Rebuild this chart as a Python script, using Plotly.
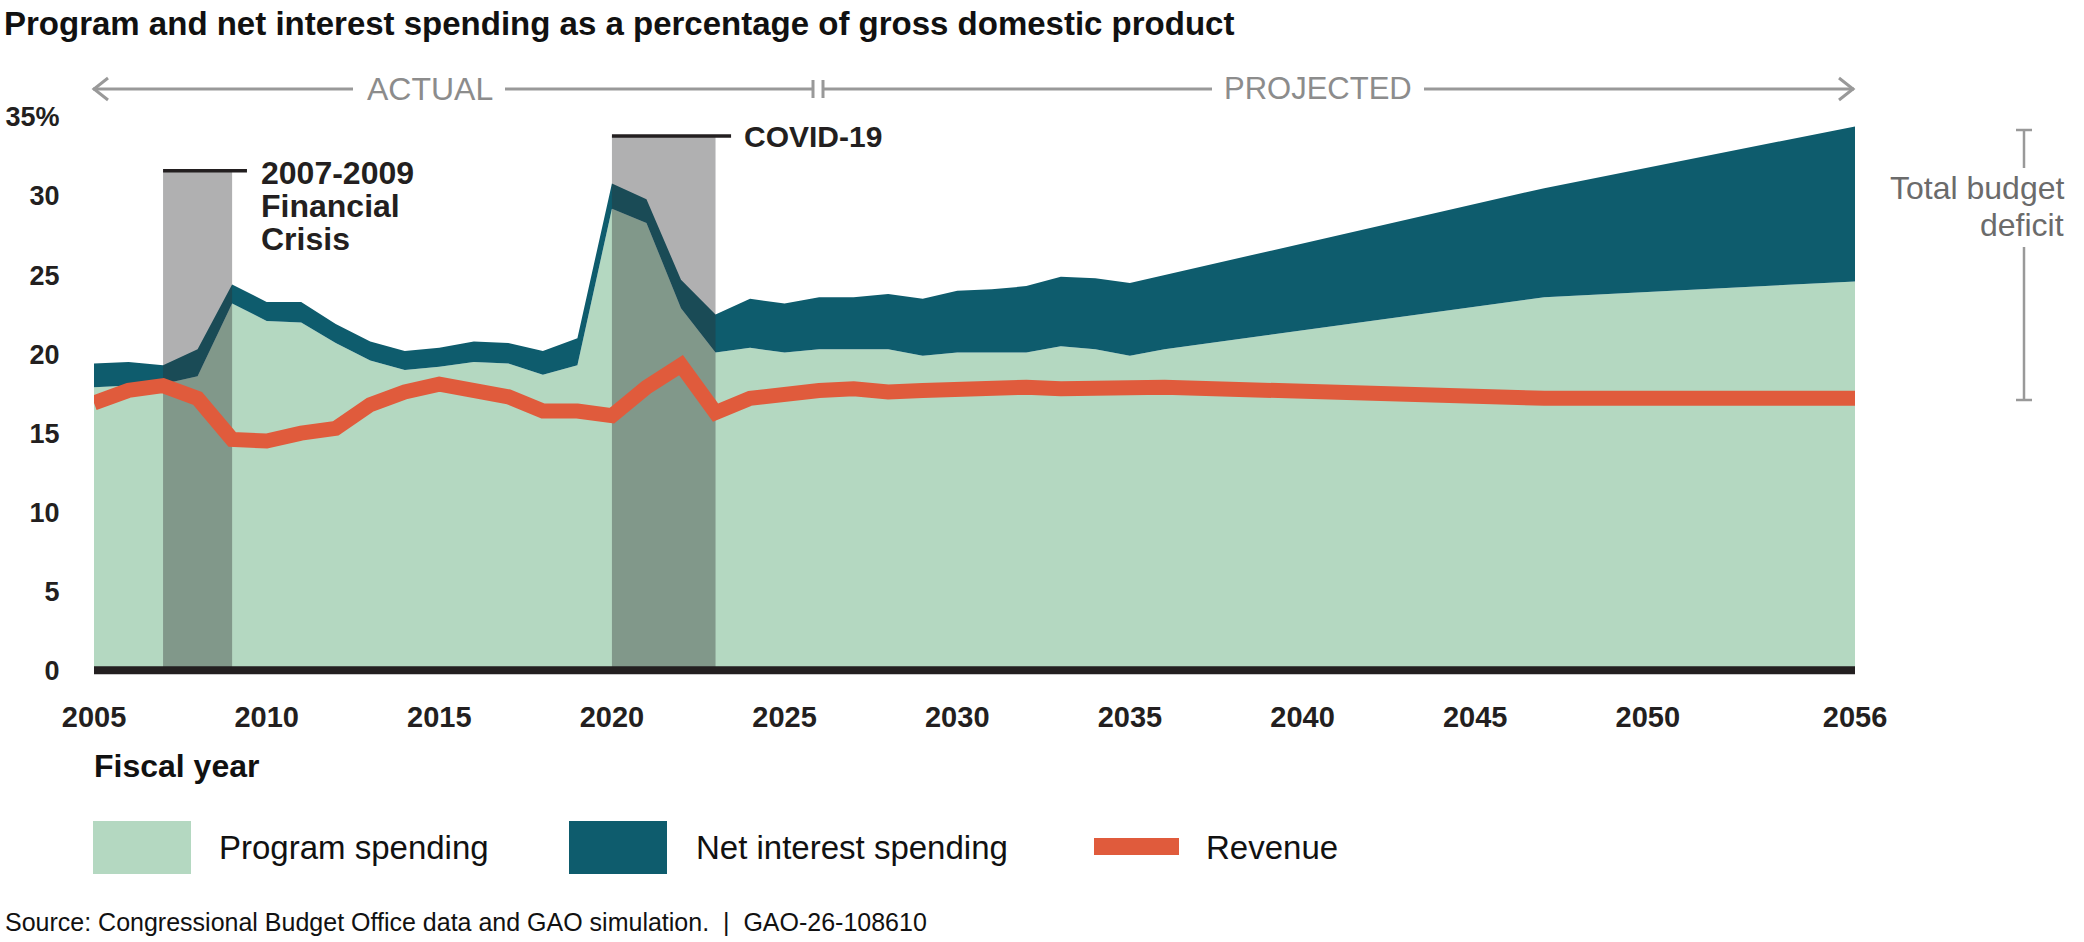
import plotly.graph_objects as go

# ---------------- data ----------------
years = list(range(2005, 2037)) + [2047, 2056]

program_spending = [17.9, 18.0, 18.1, 18.6, 23.2, 22.1, 22.0, 20.7, 19.6, 19.0,
                    19.2, 19.5, 19.4, 18.7, 19.3, 29.2, 28.3, 22.9, 20.1, 20.4,
                    20.1, 20.3, 20.3, 20.3, 19.9, 20.1, 20.1, 20.1, 20.5, 20.3,
                    19.9, 20.3, 23.6, 24.6]

net_interest = [1.5, 1.5, 1.2, 1.7, 1.2, 1.2, 1.3, 1.2, 1.2, 1.2,
                1.2, 1.3, 1.3, 1.5, 1.7, 1.6, 1.5, 1.8, 2.4, 3.1,
                3.1, 3.3, 3.3, 3.5, 3.6, 3.9, 4.0, 4.2, 4.4, 4.5,
                4.6, 4.7, 6.9, 9.8]

revenue = [16.9, 17.7, 18.0, 17.2, 14.6, 14.5, 15.0, 15.3, 16.8, 17.6,
           18.1, 17.7, 17.3, 16.4, 16.4, 16.1, 17.9, 19.3, 16.3, 17.2,
           17.5, 17.7, 17.8, 17.6, 17.7, 17.8, 17.9, 17.9, 17.8, 17.8,
           17.8, 17.9, 17.2, 17.2]

band_labels = [["2007-2009", "Financial", "Crisis"], ["COVID-19"]]
band_starts = [2007, 2020]
band_ends = [2009, 2023]

x_tick_vals = [2005, 2010, 2015, 2020, 2025, 2030, 2035, 2040, 2045, 2050, 2056]
y_tick_vals = [0, 5, 10, 15, 20, 25, 30, 35]
y_tick_text = ["0", "5", "10", "15", "20", "25", "30", "35%"]

legend_labels = ["Program spending", "Net interest spending", "Revenue"]

# ---------------- styles ----------------
GREEN = "#b4d8c1"
TEAL = "#0e5c6d"
ORANGE = "#e05b3c"
BAND = "rgba(48,48,50,0.38)"
DARK = "#231f20"
GRAY = "#999999"
TXTGRAY = "#6b6b6b"
FONT = "Liberation Sans, Arial, sans-serif"

W, H = 2084, 942
L, R, T, B = 94, 1855, 117, 686
YMIN, YMAX = -1, 35


def px(xp):
    return (xp - L) / (R - L)


def py(yp):
    return (B - yp) / (B - T)


fig = go.Figure()

fig.add_trace(go.Scatter(x=years, y=program_spending, stackgroup="one", mode="lines",
                         line=dict(width=0, color=GREEN), fillcolor=GREEN,
                         name=legend_labels[0], hoverinfo="skip"))
fig.add_trace(go.Scatter(x=years, y=net_interest, stackgroup="one", mode="lines",
                         line=dict(width=0, color=TEAL), fillcolor=TEAL,
                         name=legend_labels[1], hoverinfo="skip"))

band_tops = [31.6, 33.8]
band_line_ext = [0.43, 0.45]
for s, e, top in zip(band_starts, band_ends, band_tops):
    fig.add_trace(go.Scatter(x=[s, e, e, s, s], y=[0, 0, top, top, 0], fill="toself",
                             mode="lines", line=dict(width=0), fillcolor=BAND,
                             hoverinfo="skip", showlegend=False))

fig.add_trace(go.Scatter(x=years, y=revenue, mode="lines",
                         line=dict(color=ORANGE, width=15),
                         name=legend_labels[2], hoverinfo="skip"))

shapes = []
annotations = []

# zero baseline
shapes.append(dict(type="line", xref="x", yref="y", x0=2005, x1=2056, y0=0, y1=0,
                   line=dict(color=DARK, width=8), layer="above"))

# band top lines + labels
label_pos = [(259, 173, 32), (742, 136, 30)]
for s, e, top, ext, lines, (lx, ly, fs) in zip(band_starts, band_ends, band_tops, band_line_ext,
                                                band_labels, label_pos):
    shapes.append(dict(type="line", xref="x", yref="y", x0=s, x1=e + ext, y0=top, y1=top,
                       line=dict(color=DARK, width=3.5), layer="above"))
    for i, ln in enumerate(lines):
        annotations.append(dict(xref="paper", yref="paper", x=px(lx), y=py(ly + 33 * i),
                                xanchor="left", yanchor="middle", align="left",
                                text="<b>" + ln + "</b>", showarrow=False,
                                font=dict(family=FONT, size=fs, color=DARK)))

# ACTUAL / PROJECTED arrow line
AY = 89
for x0, x1 in [(93, 353), (505, 813), (823, 1212), (1424, 1854)]:
    shapes.append(dict(type="line", xref="paper", yref="paper", x0=px(x0), x1=px(x1),
                       y0=py(AY), y1=py(AY), line=dict(color=GRAY, width=3)))
for bx in [813, 823]:
    shapes.append(dict(type="line", xref="paper", yref="paper", x0=px(bx), x1=px(bx),
                       y0=py(80), y1=py(98), line=dict(color=GRAY, width=3)))
for tip, d in [(94, 1), (1853, -1)]:
    shapes.append(dict(type="path", xref="paper", yref="paper",
                       path=f"M {px(tip + 14 * d)} {py(AY - 11)} L {px(tip)} {py(AY)} L {px(tip + 14 * d)} {py(AY + 11)}",
                       line=dict(color=GRAY, width=3)))
annotations.append(dict(xref="paper", yref="paper", x=px(430), y=py(AY), text="ACTUAL",
                        showarrow=False, xanchor="center", yanchor="middle",
                        font=dict(family=FONT, size=32, color="#8c8c8c")))
annotations.append(dict(xref="paper", yref="paper", x=px(1318), y=py(AY), text="PROJECTED",
                        showarrow=False, xanchor="center", yanchor="middle",
                        font=dict(family=FONT, size=31, color="#8c8c8c")))

# Total budget deficit bracket
BX = 2024
for y0, y1 in [(130, 168), (247, 400)]:
    shapes.append(dict(type="line", xref="paper", yref="paper", x0=px(BX), x1=px(BX),
                       y0=py(y0), y1=py(y1), line=dict(color=GRAY, width=2.5)))
for yy in [130, 400]:
    shapes.append(dict(type="line", xref="paper", yref="paper", x0=px(BX - 8), x1=px(BX + 8),
                       y0=py(yy), y1=py(yy), line=dict(color=GRAY, width=2.5)))
for i, ln in enumerate(["Total budget", "deficit"]):
    annotations.append(dict(xref="paper", yref="paper", x=px(2066), y=py(188 + 37 * i), text=ln,
                            showarrow=False, xanchor="right", yanchor="middle", align="right",
                            font=dict(family=FONT, size=32, color=TXTGRAY)))

# title
annotations.append(dict(xref="paper", yref="paper", x=px(2), y=py(24), xanchor="left", yanchor="middle",
                        text="<b>Program and net interest spending as a percentage of gross domestic product</b>",
                        showarrow=False, font=dict(family=FONT, size=33, color="#111111")))

# fiscal year
annotations.append(dict(xref="paper", yref="paper", x=px(92), y=py(766), xanchor="left", yanchor="middle",
                        text="<b>Fiscal year</b>", showarrow=False,
                        font=dict(family=FONT, size=32, color="#111111")))

# custom legend
LY = 847
swatches = [(93, 191, 821, 874, GREEN), (569, 667, 821, 874, TEAL), (1094, 1179, 838, 855, ORANGE)]
text_x = [217, 694, 1204]
for (x0, x1, y0, y1, c), tx, lab in zip(swatches, text_x, legend_labels):
    shapes.append(dict(type="rect", xref="paper", yref="paper", x0=px(x0), x1=px(x1),
                       y0=py(y1), y1=py(y0), fillcolor=c, line=dict(width=0)))
    annotations.append(dict(xref="paper", yref="paper", x=px(tx), y=py(LY), xanchor="left",
                            yanchor="middle", text=lab, showarrow=False,
                            font=dict(family=FONT, size=33, color="#111111")))

# source
annotations.append(dict(xref="paper", yref="paper", x=px(3), y=py(922), xanchor="left", yanchor="middle",
                        text="Source: Congressional Budget Office data and GAO simulation.  |  GAO-26-108610",
                        showarrow=False, font=dict(family=FONT, size=25, color="#111111")))

fig.update_layout(
    width=W, height=H,
    margin=dict(l=L, r=W - R, t=T, b=H - B, pad=0, autoexpand=False),
    paper_bgcolor="white", plot_bgcolor="white",
    showlegend=False,
    shapes=shapes, annotations=annotations,
    xaxis=dict(range=[2005, 2056], tickvals=x_tick_vals, showgrid=False, zeroline=False,
               showline=False, ticks="outside", ticklen=5, tickcolor="rgba(0,0,0,0)",
               automargin=False,
               tickfont=dict(family=FONT, size=29, color=DARK, weight="bold")),
    yaxis=dict(range=[YMIN, YMAX], tickvals=y_tick_vals, ticktext=y_tick_text, showgrid=False,
               zeroline=False, showline=False, ticks="outside", ticklen=28,
               tickcolor="rgba(0,0,0,0)", automargin=False,
               tickfont=dict(family=FONT, size=27, color=DARK, weight="bold")),
)

fig.write_html("out.html")
